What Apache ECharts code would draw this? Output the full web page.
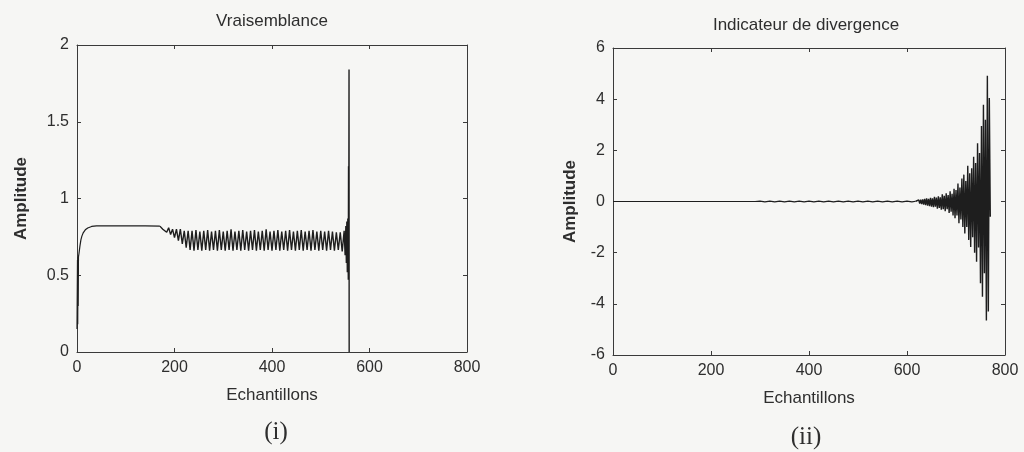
<!DOCTYPE html>
<html>
<head>
<meta charset="utf-8">
<script src="https://cdn.jsdelivr.net/npm/echarts@6/dist/echarts.min.js"></script>
<style>
html,body{margin:0;padding:0;background:#f6f6f4;}
#c{width:1024px;height:452px;}
</style>
</head>
<body>
<div id="c"></div>
<script>
// ---- Data ----
var xTicks = [0, 200, 400, 600, 800];
var leftYTicks = [0, 0.5, 1, 1.5, 2];
var rightYTicks = [-6, -4, -2, 0, 2, 4, 6];

// Vraisemblance: initial transient and rise [sample, amplitude]
var vraisRise = [[0,0.15],[1,0.6],[1.5,0.18],[2,0.62],[2.5,0.3],[3,0.62],[4,0.64],[6,0.69],[8,0.73],[10,0.755],[13,0.778],[17,0.796],[22,0.808],[30,0.818],[40,0.822]];
// flat plateau
var vraisPlateau = [[60,0.822],[100,0.822],[140,0.822],[170,0.82]];
// oscillating band (alternating upper / lower peaks)
var vraisBand = [
[172,0.81],[176,0.80],[180,0.81],[184,0.78],[188,0.81],[192,0.765],[196,0.80],[200,0.745],[204,0.80],[208,0.725],
[212,0.80],[216,0.705],[220,0.79],[224,0.68],[228,0.79],[232,0.665],[236,0.79],[240,0.66],[244,0.795],[248,0.665],
[252,0.785],[256,0.66],[260,0.79],[264,0.665],[268,0.795],[272,0.66],[276,0.785],[280,0.665],[284,0.79],[288,0.66],
[292,0.795],[296,0.665],[300,0.785],[304,0.66],[308,0.79],[312,0.665],[316,0.80],[320,0.66],[324,0.785],[328,0.665],
[332,0.79],[336,0.66],[340,0.795],[344,0.665],[348,0.785],[352,0.66],[356,0.79],[360,0.665],[364,0.795],[368,0.66],
[372,0.785],[376,0.665],[380,0.79],[384,0.66],[388,0.80],[392,0.665],[396,0.785],[400,0.66],[404,0.79],[408,0.665],
[412,0.795],[416,0.66],[420,0.785],[424,0.665],[428,0.79],[432,0.66],[436,0.795],[440,0.665],[444,0.785],[448,0.66],
[452,0.79],[456,0.665],[460,0.795],[464,0.66],[468,0.785],[472,0.665],[476,0.79],[480,0.66],[484,0.795],[488,0.665],
[492,0.785],[496,0.66],[500,0.79],[504,0.665],[508,0.785],[512,0.66],[516,0.79],[520,0.665],[524,0.785],[528,0.66],
[532,0.78],[536,0.665],[540,0.78],[544,0.655],[548,0.79]
];
// end: burst, spike and fall to zero
var vraisEnd = [[550,0.63],[551.5,0.82],[552.5,0.58],[553.5,0.85],[554.5,0.52],[555.5,0.87],[556.5,0.47],[557,1.21],[557.5,0.8],[558,1.84],[558.3,0]];

// Indicateur de divergence: quiet part [sample, amplitude]
var divQuiet = [[0,0],[100,0],[200,0],[290,0],[300,0.012],[310,-0.012],[320,0.012],[330,-0.012],[340,0.012],[350,-0.012],[360,0.012],[370,-0.012],[380,0.012],[390,-0.012],[400,0.012],[410,-0.012],[420,0.012],[430,-0.012],[440,0.012],[450,-0.012],[460,0.012],[470,-0.012],[480,0.012],[490,-0.012],[500,0.012],[510,-0.012],[520,0.012],[530,-0.012],[540,0.012],[550,-0.012],[560,0.012],[570,-0.012],[580,0.012],[590,-0.012],[600,0.012],[610,-0.012],[618,0.01]];
// growing oscillation
var divBurst = [
[620,0.03],[622,-0.05],[624,0.06],[626,-0.08],[628,0.07],[630,-0.1],[632,0.08],[634,-0.12],[636,0.1],[638,-0.14],
[640,0.12],[642,-0.16],[644,0.1],[646,-0.18],[648,0.14],[650,-0.2],[652,0.12],[654,-0.22],[656,0.18],[658,-0.2],
[660,0.15],[662,-0.28],[664,0.2],[666,-0.25],[668,0.16],[670,-0.32],[672,0.28],[674,-0.3],[676,0.22],[678,-0.38],
[680,0.32],[682,-0.3],[684,0.25],[686,-0.45],[688,0.4],[690,-0.4],[692,0.3],[694,-0.55],[696,0.5],[698,-0.65],
[700,0.45],[702,-0.55],[704,0.7],[706,-0.85],[708,0.55],[710,-0.7],[712,0.9],[714,-1.0],[716,1.05],[718,-1.25],
[720,0.8],[722,-1.0],[724,1.4],[726,-1.5],[728,1.1],[730,-1.78],[732,1.3],[734,-1.4],[736,1.75],[738,-2.0],
[740,1.5],[742,-2.35],[744,2.28],[746,-1.8],[748,1.9],[750,-3.2],[752,2.95],[754,-3.72],[756,3.78],[758,-2.8],
[760,3.2],[762,-4.65],[764,4.92],[766,-4.3],[768,4.05],[770,-0.6]
];

// ---- Chart ----
var chart = echarts.init(document.getElementById('c'), null, {renderer:'canvas'});
var axisColor = '#3a3a3a';
var textColor = '#2e2e2e';
var font = 'Liberation Sans, Arial, sans-serif';

function xAx(grid, pos, labels, name, gap) {
  return {
    type:'value', gridIndex:grid, position:pos, min:xTicks[0], max:xTicks[xTicks.length-1],
    interval:xTicks[1]-xTicks[0],
    axisLine:{show:true, onZero:false, lineStyle:{color:axisColor, width:1}},
    axisTick:{show:true, inside:true, length:4, lineStyle:{color:axisColor}},
    axisLabel:{show:labels, color:textColor, fontSize:16, fontFamily:font, margin:8},
    splitLine:{show:false},
    name: name || '', nameLocation:'middle', nameGap:gap || 0,
    nameTextStyle:{color:textColor, fontSize:17, fontFamily:font}
  };
}
function yAx(grid, pos, ticks, labels, name, gap) {
  return {
    type:'value', gridIndex:grid, position:pos, min:ticks[0], max:ticks[ticks.length-1],
    interval:ticks[1]-ticks[0],
    axisLine:{show:true, onZero:false, lineStyle:{color:axisColor, width:1}},
    axisTick:{show:true, inside:true, length:4, lineStyle:{color:axisColor}},
    axisLabel:{show:labels, color:textColor, fontSize:16, fontFamily:font, margin:8},
    splitLine:{show:false},
    name: name || '', nameLocation:'middle', nameGap:gap || 0, nameRotate:90,
    nameTextStyle:{color:textColor, fontSize:17, fontWeight:'bold', fontFamily:font}
  };
}
function lineSeries(xi, yi, data, w) {
  return {
    type:'line', xAxisIndex:xi, yAxisIndex:yi, data:data, showSymbol:false, symbol:'none',
    lineStyle:{color:'#1e1e1e', width:w}, animation:false, silent:true
  };
}

chart.setOption({
  backgroundColor:'#f6f6f4',
  animation:false,
  grid:[
    {left:77, top:45, width:390, height:307},
    {left:613, top:48, width:392, height:307}
  ],
  xAxis:[
    xAx(0,'bottom',true,'Echantillons',35),
    xAx(0,'top',false),
    xAx(1,'bottom',true,'Echantillons',35),
    xAx(1,'top',false)
  ],
  yAxis:[
    yAx(0,'left',leftYTicks,true,'Amplitude',47),
    yAx(0,'right',leftYTicks,false),
    yAx(1,'left',rightYTicks,true,'Amplitude',34),
    yAx(1,'right',rightYTicks,false)
  ],
  series:[
    lineSeries(0,0,vraisRise.concat(vraisPlateau),1.2),
    lineSeries(0,0,[vraisPlateau[vraisPlateau.length-1]].concat(vraisBand, vraisEnd),1.4),
    lineSeries(2,2,divQuiet,1.2),
    lineSeries(2,2,[divQuiet[divQuiet.length-1]].concat(divBurst),1.4)
  ],
  graphic:[
    {type:'text', x:272, y:21, style:{text:'Vraisemblance', fill:textColor, font:'17px Liberation Sans, Arial, sans-serif', textAlign:'center', textVerticalAlign:'middle'}},
    {type:'text', x:806, y:25, style:{text:'Indicateur de divergence', fill:textColor, font:'17px Liberation Sans, Arial, sans-serif', textAlign:'center', textVerticalAlign:'middle'}},
    {type:'text', x:276, y:432, style:{text:'(i)', fill:textColor, font:'25px Liberation Serif, Times New Roman, serif', textAlign:'center', textVerticalAlign:'middle'}},
    {type:'text', x:806, y:437, style:{text:'(ii)', fill:textColor, font:'25px Liberation Serif, Times New Roman, serif', textAlign:'center', textVerticalAlign:'middle'}}
  ]
});
</script>
</body>
</html>
